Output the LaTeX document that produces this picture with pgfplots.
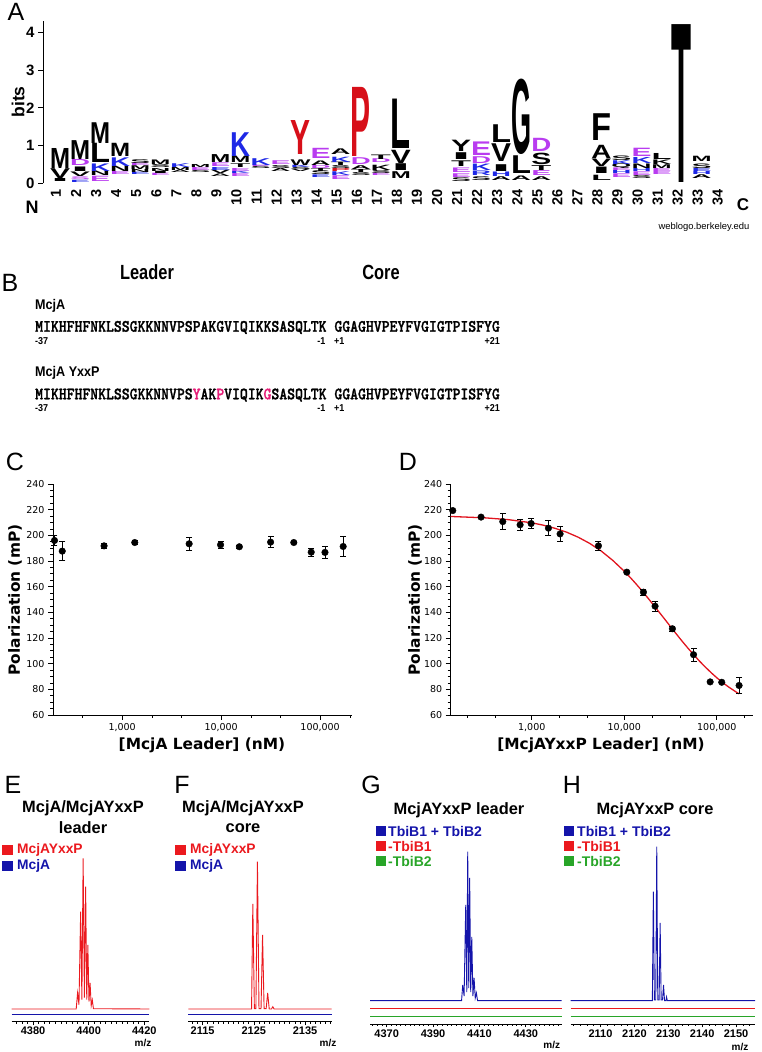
\documentclass[border=0pt]{standalone}
\usepackage{fontspec}
\setmainfont{Liberation Sans}
\newfontfamily\verd{DejaVu Sans}
\newfontfamily\seqf{lmmonolt10-bold.otf}[FakeBold=1.6]
\usepackage{graphicx}
\usepackage{pgfplots}
\pgfplotsset{compat=1.18}
\newcommand\fs[1]{\fontsize{#1}{#1}\selectfont}
\definecolor{lgblue}{RGB}{30,40,230}
\definecolor{lgpurple}{RGB}{185,60,240}
\definecolor{lgred}{RGB}{215,15,25}
\definecolor{lgblack}{RGB}{0,0,0}
\definecolor{pinkm}{RGB}{230,30,120}
\definecolor{msred}{RGB}{235,25,30}
\definecolor{msblue}{RGB}{20,20,170}
\definecolor{msgreen}{RGB}{40,165,40}
\definecolor{fitred}{RGB}{225,20,30}
\newlength\lgh
% logo letter: pos, bottom, top, letter, colour
\newcommand\lgl[5]{\pgfplotsextra{\pgfmathsetlength\lgh{(#3-#2)*37.75}%
 \node[anchor=south,inner sep=0pt,outer sep=0pt,text=#5] at (axis cs:#1,#2) {\resizebox{20pt}{\lgh}{\bfseries #4}};}}
\newcommand\seqfont{\seqf\fs{15}}
\pgfplotsset{
 ms/.style={scale only axis, anchor=south west, height=180pt, ymin=0, ymax=180,
  axis x line=bottom, axis y line=none, axis line style={-, line width=0.8pt},
  tick align=outside, major tick length=3.5pt, minor tick length=2pt,
  every tick/.style={black, line width=0.6pt},
  tick label style={font=\bfseries\fs{11}},
  xticklabel style={yshift=1.5pt},
  /pgf/number format/1000 sep={}, /pgf/number format/assume math mode=true, clip=false}
}
\begin{document}
\begin{tikzpicture}
\begin{scope}[x=1pt,y=1pt]
\path[use as bounding box] (0,0) rectangle (762,1052);
% ---------------- texts of panel A ----------------
\node at (16,1040) {\fs{25}A};
\node[rotate=90] at (18,950) {\bfseries\fs{17.5}bits};
\node at (32,845) {\bfseries\fs{18}N};
\node at (743,847) {\bfseries\fs{17}C};
\node at (704,825) {\fs{9.4}weblogo.berkeley.edu};
% ---------------- Panel B : sequences ----------------
\node at (10,769) {\fs{25}B};
\node[anchor=base] at (147,772) {\scalebox{0.8}[1]{\bfseries\fs{20.5}Leader}};
\node[anchor=base] at (381,772) {\scalebox{0.8}[1]{\bfseries\fs{20.5}Core}};
\node[anchor=base west, inner sep=0pt] at (35,742) {\scalebox{0.9}[1]{\bfseries\fs{14}McjA}};
\node[anchor=base west, inner sep=0pt] at (35,720.3) {\scalebox{1}[1.15]{\seqfont MIKHFHFNKLSSGKKNNVPSPAKGVIQIKKSASQLTK GGAGHVPEYFVGIGTPISFYG}};
\node[anchor=base west, inner sep=0pt] at (35,707) {\scalebox{0.9}[1]{\bfseries\fs{10}-37}};
\node[anchor=base east, inner sep=0pt] at (325.5,707) {\scalebox{0.9}[1]{\bfseries\fs{10}-1}};
\node[anchor=base west, inner sep=0pt] at (334,707) {\scalebox{0.9}[1]{\bfseries\fs{10}+1}};
\node[anchor=base east, inner sep=0pt] at (500,707) {\scalebox{0.9}[1]{\bfseries\fs{10}+21}};
\node[anchor=base west, inner sep=0pt] at (35,675.3) {\scalebox{0.9}[1]{\bfseries\fs{14}McjA YxxP}};
\node[anchor=base west, inner sep=0pt] at (35,652.7) {\scalebox{1}[1.15]{\seqfont MIKHFHFNKLSSGKKNNVPS\textcolor{pinkm}{Y}AK\textcolor{pinkm}{P}VIQIK\textcolor{pinkm}{G}SASQLTK GGAGHVPEYFVGIGTPISFYG}};
\node[anchor=base west, inner sep=0pt] at (35,640) {\scalebox{0.9}[1]{\bfseries\fs{10}-37}};
\node[anchor=base east, inner sep=0pt] at (325.5,640) {\scalebox{0.9}[1]{\bfseries\fs{10}-1}};
\node[anchor=base west, inner sep=0pt] at (334,640) {\scalebox{0.9}[1]{\bfseries\fs{10}+1}};
\node[anchor=base east, inner sep=0pt] at (500,640) {\scalebox{0.9}[1]{\bfseries\fs{10}+21}};
% ---------------- texts of C, D ----------------
\node at (15,590) {\fs{25}C};
\node[rotate=90] at (15,452) {\verd\bfseries\fs{15.4}Polarization (mP)};
\node at (202,307) {\verd\bfseries\fs{15.4}[McjA Leader] (nM)};
\node at (408,590) {\fs{25}D};
\node[rotate=90] at (415,452) {\verd\bfseries\fs{15.4}Polarization (mP)};
\node at (601,307) {\verd\bfseries\fs{15.4}[McjAYxxP Leader] (nM)};
% ---------------- texts of E-H ----------------
\node at (13,267) {\fs{25}E};
\node at (83,244) {\bfseries\fs{16.4}McjA/McjAYxxP};
\node at (83,224) {\bfseries\fs{16.4}leader};
\fill[msred] (2,197) rectangle (13,207);
\node[anchor=west, inner sep=0pt] at (17,202) {\bfseries\fs{13.8}\textcolor{msred}{McjAYxxP}};
\fill[msblue] (2,181) rectangle (13,191);
\node[anchor=west, inner sep=0pt] at (17,186) {\bfseries\fs{13.8}\textcolor{msblue}{McjA}};
\node at (143,8.7) {\bfseries\fs{10}m/z};
\node at (182,267) {\fs{25}F};
\node at (243,244) {\bfseries\fs{16.4}McjA/McjAYxxP};
\node at (243,224) {\bfseries\fs{16.4}core};
\fill[msred] (175,197) rectangle (186,207);
\node[anchor=west, inner sep=0pt] at (190,202) {\bfseries\fs{13.8}\textcolor{msred}{McjAYxxP}};
\fill[msblue] (175,181) rectangle (186,191);
\node[anchor=west, inner sep=0pt] at (190,186) {\bfseries\fs{13.8}\textcolor{msblue}{McjA}};
\node at (328,8.7) {\bfseries\fs{10}m/z};
\node at (371,267) {\fs{25}G};
\node at (459,242) {\bfseries\fs{16.4}McjAYxxP leader};
\fill[msblue] (376,216) rectangle (386,226);
\node[anchor=west, inner sep=0pt] at (388,221) {\bfseries\fs{14}\textcolor{msblue}{TbiB1 + TbiB2}};
\fill[msred] (376,201) rectangle (386,211);
\node[anchor=west, inner sep=0pt] at (388,206) {\bfseries\fs{14}\textcolor{msred}{-TbiB1}};
\fill[msgreen] (376,186) rectangle (386,196);
\node[anchor=west, inner sep=0pt] at (388,191) {\bfseries\fs{14}\textcolor{msgreen}{-TbiB2}};
\node at (551.7,7) {\bfseries\fs{10}m/z};
\node at (572,267) {\fs{25}H};
\node at (655,242) {\bfseries\fs{16.4}McjAYxxP core};
\fill[msblue] (564,216) rectangle (574,226);
\node[anchor=west, inner sep=0pt] at (577,221) {\bfseries\fs{14}\textcolor{msblue}{TbiB1 + TbiB2}};
\fill[msred] (564,201) rectangle (574,211);
\node[anchor=west, inner sep=0pt] at (577,206) {\bfseries\fs{14}\textcolor{msred}{-TbiB1}};
\fill[msgreen] (564,186) rectangle (574,196);
\node[anchor=west, inner sep=0pt] at (577,191) {\bfseries\fs{14}\textcolor{msgreen}{-TbiB2}};
\node at (740,5.3) {\bfseries\fs{10}m/z};
\end{scope}

% ---------------- Panel A : sequence logo ----------------
\begin{axis}[at={(43pt,868.7pt)}, anchor=south west, scale only axis, width=700pt, height=162.325pt,
 xmin=0.152, xmax=35.06, ymin=0, ymax=4.3, clip=false,
 axis x line=bottom, axis y line=left, x axis line style={draw=none}, y axis line style={-, line width=1pt},
 xtick={1,...,34}, ytick={0,1,2,3,4},
 tick align=outside, major tick length=5pt,
 xtick style={draw=none}, ytick style={line width=1pt, black},
 xticklabel style={rotate=90, anchor=east, font=\bfseries\fs{14.5}, inner sep=1pt, yshift=4pt},
 yticklabel style={font=\bfseries\fs{15}},
 /pgf/number format/assume math mode=true]
\lgl{1}{0.04}{0.12}{I}{lgblack}\lgl{1}{0.12}{0.38}{V}{lgblack}\lgl{1}{0.40}{0.93}{M}{lgblack}
\lgl{2}{0.03}{0.09}{E}{lgblue}\lgl{2}{0.09}{0.16}{S}{lgpurple}\lgl{2}{0.18}{0.30}{V}{lgblack}\lgl{2}{0.30}{0.42}{I}{lgblack}\lgl{2}{0.46}{0.62}{D}{lgpurple}\lgl{2}{0.62}{1.12}{M}{lgblack}
\lgl{3}{0.06}{0.20}{E}{lgpurple}\lgl{3}{0.20}{0.32}{N}{lgblack}\lgl{3}{0.32}{0.52}{K}{lgblue}\lgl{3}{0.55}{1.06}{L}{lgblack}\lgl{3}{1.06}{1.61}{M}{lgblack}
\lgl{4}{0.22}{0.30}{E}{lgpurple}\lgl{4}{0.30}{0.44}{N}{lgblack}\lgl{4}{0.45}{0.68}{K}{lgblue}\lgl{4}{0.70}{1.05}{M}{lgblack}
\lgl{5}{0.22}{0.28}{E}{lgblue}\lgl{5}{0.28}{0.36}{N}{lgblack}\lgl{5}{0.36}{0.46}{M}{lgblack}\lgl{5}{0.46}{0.52}{E}{lgpurple}\lgl{5}{0.52}{0.62}{S}{lgblack}
\lgl{6}{0.20}{0.26}{E}{lgpurple}\lgl{6}{0.26}{0.32}{I}{lgblack}\lgl{6}{0.32}{0.40}{N}{lgblack}\lgl{6}{0.42}{0.50}{S}{lgblack}\lgl{6}{0.50}{0.62}{M}{lgblack}
\lgl{7}{0.28}{0.34}{A}{lgblack}\lgl{7}{0.34}{0.42}{M}{lgblack}\lgl{7}{0.42}{0.52}{K}{lgblue}
\lgl{8}{0.28}{0.34}{S}{lgblack}\lgl{8}{0.34}{0.42}{E}{lgpurple}\lgl{8}{0.42}{0.50}{M}{lgblack}
\lgl{9}{0.18}{0.25}{A}{lgblack}\lgl{9}{0.25}{0.34}{V}{lgblack}\lgl{9}{0.34}{0.42}{E}{lgblue}\lgl{9}{0.44}{0.54}{E}{lgpurple}\lgl{9}{0.54}{0.75}{M}{lgblack}
\lgl{10}{0.18}{0.26}{E}{lgpurple}\lgl{10}{0.26}{0.32}{K}{lgblue}\lgl{10}{0.32}{0.40}{E}{lgpurple}\lgl{10}{0.42}{0.52}{T}{lgblack}\lgl{10}{0.55}{0.72}{M}{lgblack}\lgl{10}{0.72}{1.35}{K}{lgblue}
\lgl{11}{0.38}{0.44}{S}{lgblack}\lgl{11}{0.44}{0.48}{E}{lgpurple}\lgl{11}{0.48}{0.66}{K}{lgblue}
\lgl{12}{0.30}{0.38}{A}{lgblack}\lgl{12}{0.38}{0.46}{S}{lgblack}\lgl{12}{0.50}{0.60}{E}{lgpurple}
\lgl{13}{0.30}{0.36}{V}{lgblack}\lgl{13}{0.36}{0.42}{S}{lgblack}\lgl{13}{0.42}{0.48}{K}{lgblue}\lgl{13}{0.48}{0.63}{W}{lgblack}\lgl{13}{0.75}{1.65}{Y}{lgred}
\lgl{14}{0.15}{0.22}{E}{lgblue}\lgl{14}{0.22}{0.32}{S}{lgblack}\lgl{14}{0.32}{0.40}{T}{lgblack}\lgl{14}{0.40}{0.48}{D}{lgpurple}\lgl{14}{0.48}{0.60}{A}{lgblack}\lgl{14}{0.66}{0.93}{E}{lgpurple}
\lgl{15}{0.10}{0.20}{E}{lgpurple}\lgl{15}{0.20}{0.30}{K}{lgblue}\lgl{15}{0.30}{0.38}{P}{lgred}\lgl{15}{0.38}{0.46}{S}{lgblack}\lgl{15}{0.46}{0.55}{T}{lgblack}\lgl{15}{0.56}{0.70}{K}{lgblue}\lgl{15}{0.75}{0.90}{A}{lgblack}
\lgl{16}{0.20}{0.28}{S}{lgblack}\lgl{16}{0.28}{0.36}{T}{lgblack}\lgl{16}{0.36}{0.46}{A}{lgblack}\lgl{16}{0.50}{0.68}{D}{lgpurple}\lgl{16}{0.72}{2.55}{P}{lgred}
\lgl{17}{0.20}{0.26}{E}{lgpurple}\lgl{17}{0.26}{0.34}{S}{lgblack}\lgl{17}{0.34}{0.48}{K}{lgblack}\lgl{17}{0.54}{0.64}{D}{lgpurple}\lgl{17}{0.64}{0.76}{T}{lgblack}
\lgl{18}{0.13}{0.31}{M}{lgblack}\lgl{18}{0.35}{0.53}{I}{lgblack}\lgl{18}{0.53}{0.88}{V}{lgblack}\lgl{18}{0.93}{2.24}{L}{lgblack}
\lgl{21}{0.05}{0.15}{S}{lgblack}\lgl{21}{0.15}{0.25}{E}{lgpurple}\lgl{21}{0.28}{0.40}{E}{lgpurple}\lgl{21}{0.45}{0.60}{T}{lgblack}\lgl{21}{0.62}{0.80}{I}{lgblack}\lgl{21}{0.84}{1.14}{Y}{lgblack}
\lgl{22}{0.08}{0.18}{S}{lgblack}\lgl{22}{0.20}{0.32}{R}{lgblue}\lgl{22}{0.35}{0.52}{K}{lgblue}\lgl{22}{0.52}{0.70}{D}{lgpurple}\lgl{22}{0.74}{1.10}{E}{lgpurple}
\lgl{23}{0.08}{0.18}{A}{lgblack}\lgl{23}{0.18}{0.30}{H}{lgblue}\lgl{23}{0.32}{0.50}{I}{lgblack}\lgl{23}{0.58}{1.05}{V}{lgblack}\lgl{23}{1.07}{1.54}{L}{lgblack}
\lgl{24}{0.08}{0.20}{A}{lgblack}\lgl{24}{0.25}{0.72}{L}{lgblack}\lgl{24}{0.75}{2.72}{G}{lgblack}
\lgl{25}{0.08}{0.18}{A}{lgblack}\lgl{25}{0.20}{0.33}{E}{lgpurple}\lgl{25}{0.35}{0.48}{T}{lgblack}\lgl{25}{0.50}{0.80}{S}{lgblack}\lgl{25}{0.83}{1.18}{D}{lgpurple}
\lgl{28}{0.08}{0.22}{L}{lgblack}\lgl{28}{0.25}{0.42}{I}{lgblack}\lgl{28}{0.45}{0.65}{V}{lgblack}\lgl{28}{0.65}{1.00}{A}{lgblack}\lgl{28}{1.14}{1.85}{F}{lgblack}
\lgl{29}{0.15}{0.25}{E}{lgpurple}\lgl{29}{0.25}{0.33}{H}{lgblue}\lgl{29}{0.33}{0.40}{E}{lgpurple}\lgl{29}{0.40}{0.50}{Q}{lgblack}\lgl{29}{0.50}{0.60}{K}{lgblue}\lgl{29}{0.60}{0.72}{S}{lgblack}
\lgl{30}{0.12}{0.20}{S}{lgblack}\lgl{30}{0.20}{0.30}{E}{lgpurple}\lgl{30}{0.30}{0.38}{H}{lgblue}\lgl{30}{0.38}{0.50}{N}{lgblack}\lgl{30}{0.52}{0.68}{K}{lgblue}\lgl{30}{0.70}{0.92}{E}{lgpurple}
\lgl{31}{0.22}{0.30}{E}{lgpurple}\lgl{31}{0.30}{0.38}{E}{lgpurple}\lgl{31}{0.40}{0.50}{M}{lgblack}\lgl{31}{0.50}{0.62}{K}{lgblack}\lgl{31}{0.62}{0.78}{L}{lgblack}
\lgl{32}{0.02}{4.20}{T}{lgblack}
\lgl{33}{0.12}{0.22}{A}{lgblack}\lgl{33}{0.22}{0.30}{H}{lgblue}\lgl{33}{0.30}{0.38}{E}{lgblue}\lgl{33}{0.38}{0.50}{S}{lgblack}\lgl{33}{0.58}{0.72}{M}{lgblack}
\end{axis}

% ---------------- Panel C ----------------
\begin{axis}[xmode=log, at={(53pt,337pt)}, anchor=south west, scale only axis, width=299pt, height=231pt,
 xmin=200, xmax=210000, ymin=60, ymax=240,
 axis lines=left, axis line style={-, line width=0.8pt},
 tick align=outside, major tick length=5pt, minor tick length=3pt,
 every tick/.style={black, line width=0.8pt},
 ytick={60,80,...,240}, minor y tick num=3,
 xtick={1000,10000,100000}, xticklabels={1{,}000,10{,}000,100{,}000},
 minor xtick={400,2000,4000,20000,40000,200000},
 tick label style={font=\verd\fs{9.5}},
 /pgf/number format/assume math mode=true, clip=false]
\addplot[black, line width=0.9pt, unbounded coords=jump] coordinates {
(207,192.0) (207,200.0) (207,nan)
(248,180.2) (248,195.2) (248,nan)
(656,189.8) (656,193.8) (656,nan)
(1340,192.9) (1340,195.9) (1340,nan)
(4750,188.4) (4750,198.4) (4750,nan)
(9860,190.1) (9860,195.1) (9860,nan)
(15270,190.1) (15270,192.1) (15270,nan)
(31600,190.2) (31600,199.2) (31600,nan)
(54200,193.4) (54200,195.4) (54200,nan)
(81300,183.9) (81300,189.9) (81300,nan)
(112000,182.2) (112000,191.2) (112000,nan)
(171000,183.3) (171000,199.3)
};
\addplot[only marks, mark=-, mark size=3pt, mark options={line width=0.9pt, black}] coordinates {
(207,192.0) (207,200.0) (248,180.2) (248,195.2) (656,189.8) (656,193.8) (1340,192.9) (1340,195.9)
(4750,188.4) (4750,198.4) (9860,190.1) (9860,195.1) (15270,190.1) (15270,192.1) (31600,190.2) (31600,199.2)
(54200,193.4) (54200,195.4) (81300,183.9) (81300,189.9) (112000,182.2) (112000,191.2) (171000,183.3) (171000,199.3)
};
\addplot[only marks, mark=*, mark size=3.3pt, black] coordinates {
(207,196.0) (248,187.7) (656,191.8) (1340,194.4) (4750,193.4) (9860,192.6)
(15270,191.1) (31600,194.7) (54200,194.4) (81300,186.9) (112000,186.7) (171000,191.3)
};
\end{axis}

% ---------------- Panel D ----------------
\begin{axis}[xmode=log, at={(450.7pt,337pt)}, anchor=south west, scale only axis, width=302.3pt, height=231pt,
 xmin=133, xmax=246000, ymin=60, ymax=240,
 axis lines=left, axis line style={-, line width=0.8pt},
 tick align=outside, major tick length=5pt, minor tick length=3pt,
 every tick/.style={black, line width=0.8pt},
 ytick={60,80,...,240}, minor y tick num=3,
 xtick={1000,10000,100000}, xticklabels={1{,}000,10{,}000,100{,}000},
 minor xtick={200,400,2000,4000,20000,40000,200000},
 tick label style={font=\verd\fs{9.5}},
 /pgf/number format/assume math mode=true, clip=false]
\addplot[fitred, line width=1.3pt] coordinates {
(133,214.7) (316,213.6) (562,212.2) (1000,209.75) (1334,207.9) (1778,205.5) (2371,202.5) (3162,198.6)
(4217,193.75) (5623,187.8) (7499,180.5) (10000,172.0) (11548,167.3) (13335,162.3) (15399,157.1)
(17783,151.6) (20535,146.0) (23714,140.3) (27384,134.6) (31623,128.8) (36517,123.1) (42170,117.5)
(48697,112.1) (56234,107.0) (64938,102.0) (74989,97.4) (86596,93.05) (100000,89.0) (115478,85.3)
(133352,81.95) (153993,78.9) (173780,76.5)
};
\addplot[black, line width=0.9pt, unbounded coords=jump] coordinates {
(486,204.7) (486,216.7) (486,nan)
(748,203.7) (748,212.7) (748,nan)
(984,205.2) (984,213.2) (984,nan)
(1514,199.6) (1514,211.6) (1514,nan)
(2023,195.6) (2023,206.6) (2023,nan)
(5255,188.3) (5255,195.3) (5255,nan)
(16100,153.2) (16100,158.2) (16100,nan)
(21500,140.8) (21500,148.8) (21500,nan)
(33100,125.2) (33100,129.2) (33100,nan)
(56000,102.0) (56000,112.0) (56000,nan)
(174000,77.0) (174000,89.0)
};
\addplot[only marks, mark=-, mark size=3pt, mark options={line width=0.9pt, black}] coordinates {
(486,204.7) (486,216.7) (748,203.7) (748,212.7) (984,205.2) (984,213.2) (1514,199.6) (1514,211.6)
(2023,195.6) (2023,206.6) (5255,188.3) (5255,195.3) (16100,153.2) (16100,158.2) (21500,140.8) (21500,148.8)
(33100,125.2) (33100,129.2) (56000,102.0) (56000,112.0) (174000,77.0) (174000,89.0)
};
\addplot[only marks, mark=*, mark size=3.3pt, black] coordinates {
(140,219.3) (283,214.2) (486,210.7) (748,208.2) (984,209.2) (1514,205.6) (2023,201.1) (5255,191.8)
(10640,171.3) (16100,155.7) (21500,144.8) (33100,127.2) (56000,107.0) (84700,85.8) (113000,85.5) (174000,83.0)
};
\end{axis}

% ---------------- Panel E ----------------
\begin{axis}[ms, at={(11.7pt,30.3pt)}, width=137.6pt, xmin=4372.3, xmax=4421.8,
 xtick={4380,4400,4420}, minor xtick={4374,4376,...,4420}]
\addplot[msblue, line width=1pt] coordinates {(4372.3,6.7) (4421.8,6.7)};
\addplot[msred, line width=0.9pt] coordinates {
(4372.3,12.7) (4395.5,12.7) (4396.0,28.7) (4396.5,17) (4397.1,110) (4397.55,22)
(4398.0,163.4) (4398.45,24) (4398.9,135) (4399.3,22) (4399.7,76.7) (4400.1,20)
(4400.5,38.7) (4400.9,16) (4401.3,21.7) (4401.7,13) (4421.8,12.7)};
\end{axis}

% ---------------- Panel F ----------------
\begin{axis}[ms, at={(188.3pt,30.3pt)}, width=143.4pt, xmin=2112.2, xmax=2140.2,
 xtick={2115,2125,2135}, minor xtick={2113,2114,...,2140}]
\addplot[msblue, line width=1pt] coordinates {(2112.2,6.7) (2140.2,6.7)};
\addplot[msred, line width=0.9pt] coordinates {
(2112.2,12.7) (2124.55,12.7) (2124.8,117.7) (2125.1,13) (2125.4,13) (2125.7,160) (2126.0,13)
(2126.4,13) (2126.7,86.7) (2127.0,13) (2127.4,13) (2127.7,28.7) (2128.0,12.7) (2128.45,12.7)
(2128.7,15) (2128.95,12.7) (2140.2,12.7)};
\end{axis}

% ---------------- Panel G ----------------
\begin{axis}[ms, at={(370pt,28pt)}, width=191.7pt, xmin=4362.8, xmax=4445.5,
 xtick={4370,4390,4410,4430}, minor xtick={4364,4366,...,4444}]
\addplot[msgreen, line width=1pt] coordinates {(4362.8,7.3) (4445.5,7.3)};
\addplot[msred, line width=1pt] coordinates {(4362.8,15.7) (4445.5,15.7)};
\addplot[msblue, line width=0.9pt] coordinates {
(4362.8,23.3) (4402.3,23.3) (4402.8,39) (4403.4,28) (4404.1,119) (4404.55,32) (4404.96,172.3)
(4405.4,36) (4405.8,146) (4406.25,32) (4406.7,87) (4407.2,28) (4407.7,46) (4408.2,26)
(4408.7,31) (4409.2,23.3) (4445.5,23.3)};
\end{axis}

% ---------------- Panel H ----------------
\begin{axis}[ms, at={(570.7pt,28pt)}, width=184.3pt, xmin=2101.2, xmax=2155.6,
 xtick={2110,2120,2130,2140,2150}, minor xtick={2102,2104,...,2154}]
\addplot[msgreen, line width=1pt] coordinates {(2101.2,7.3) (2155.6,7.3)};
\addplot[msred, line width=1pt] coordinates {(2101.2,15.7) (2155.6,15.7)};
\addplot[msblue, line width=0.9pt] coordinates {
(2101.2,23.3) (2125.3,23.3) (2125.6,132.3) (2125.9,24) (2126.3,24) (2126.6,177.3) (2126.9,24)
(2127.3,24) (2127.6,101) (2127.9,24) (2128.3,24) (2128.6,39) (2128.9,23.3) (2129.3,23.3)
(2129.5,27) (2129.7,23.3) (2155.6,23.3)};
\end{axis}
\end{tikzpicture}
\end{document}
